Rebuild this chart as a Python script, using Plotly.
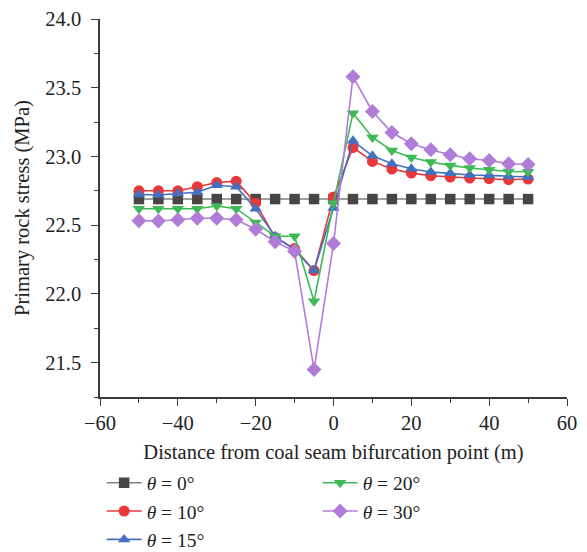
import plotly.graph_objects as go

x = [-50, -45, -40, -35, -30, -25, -20, -15, -10, -5, 0, 5, 10, 15, 20, 25, 30, 35, 40, 45, 50]

theta0 = [22.69] * 21
theta10 = [22.75, 22.75, 22.75, 22.78, 22.81, 22.82, 22.66, 22.41, 22.33, 22.17, 22.705,
           23.065, 22.964, 22.908, 22.879, 22.86, 22.85, 22.843, 22.838, 22.831, 22.836]
theta15 = [22.724, 22.72, 22.73, 22.74, 22.79, 22.78, 22.62, 22.42, 22.32, 22.17, 22.625,
           23.114, 23.005, 22.947, 22.911, 22.887, 22.877, 22.865, 22.862, 22.855, 22.85]
theta20 = [22.62, 22.62, 22.62, 22.62, 22.64, 22.62, 22.52, 22.42, 22.42, 21.947, 22.66,
           23.315, 23.138, 23.044, 22.993, 22.959, 22.935, 22.916, 22.903, 22.891, 22.889]
theta30 = [22.533, 22.53, 22.54, 22.55, 22.55, 22.54, 22.47, 22.38, 22.31, 21.45, 22.366,
           23.58, 23.327, 23.174, 23.092, 23.049, 23.012, 22.983, 22.971, 22.947, 22.942]

names = ["<i>θ</i> = 0°", "<i>θ</i> = 10°", "<i>θ</i> = 15°", "<i>θ</i> = 20°", "<i>θ</i> = 30°"]
FONT = "Liberation Serif"
FS = 20.5
LFS = 19.5

fig = go.Figure()

series = [
    (theta0, names[0], "#808080", "#4a4545", "square", 10.5, 1),
    (theta10, names[1], "#e8383a", "#e8383a", "circle", 11, 3),
    (theta15, names[2], "#4470c0", "#4470c0", "triangle-up", 11, 5),
    (theta20, names[3], "#3cba54", "#3cba54", "triangle-down", 11, 2),
    (theta30, names[4], "#b07cd8", "#b07cd8", "diamond", 11.5, 4),
]

for ys, nm, lc, mc, sym, sz, rank in series:
    fig.add_trace(go.Scatter(
        x=x, y=ys, name=nm, mode="lines+markers",
        line=dict(color=lc, width=1.6),
        marker=dict(symbol=sym, size=sz, color=mc, line=dict(width=0)),
        legendrank=rank,
    ))

axis_common = dict(
    showline=True, linecolor="#3a3a3a", linewidth=1.5,
    ticks="outside", ticklen=7, tickwidth=1.3, tickcolor="#3a3a3a",
    showgrid=False, zeroline=False, mirror=False,
    tickfont=dict(family=FONT, size=FS, color="#222222"),
)

fig.update_xaxes(
    range=[-60, 60], dtick=20, tick0=-60,
    minor=dict(dtick=10, ticks="outside", ticklen=4, tickwidth=1.2, tickcolor="#3a3a3a"),
    title=dict(text="Distance from coal seam bifurcation point (m)",
               font=dict(family=FONT, size=FS, color="#222222"), standoff=11),
    **axis_common,
)
fig.update_yaxes(
    range=[21.25, 24.0], dtick=0.5, tick0=21.5, tickformat=".1f",
    minor=dict(dtick=0.25, ticks="outside", ticklen=4, tickwidth=1.2, tickcolor="#3a3a3a"),
    title=dict(text="Primary rock stress (MPa)",
               font=dict(family=FONT, size=FS, color="#222222"), standoff=10),
    ticklabelstandoff=6,
    **axis_common,
)

fig.update_layout(
    width=587, height=552,
    margin=dict(l=100, r=20, t=19, b=155, autoexpand=False),
    paper_bgcolor="white", plot_bgcolor="white",
    font=dict(family=FONT, size=FS, color="#222222"),
    legend=dict(
        orientation="h", x=0.0035, xanchor="left", y=-0.176, yanchor="top",
        entrywidth=166, entrywidthmode="pixels",
        traceorder="normal",
        font=dict(family=FONT, size=LFS, color="#222222"),
        tracegroupgap=0, itemwidth=35, maxheight=300,
    ),
)

fig.write_html(
    "out.html",
    config={"displayModeBar": False},
    post_script="document.body.style.margin='0';document.body.style.overflow='hidden';",
)
